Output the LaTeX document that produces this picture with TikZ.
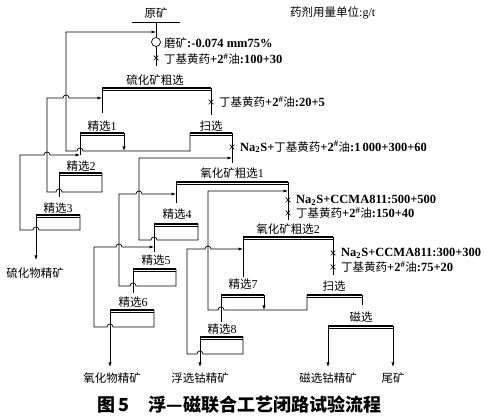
\documentclass[tikz,border=0pt]{standalone}
\usepackage{fontspec}
\setmainfont{Liberation Serif}
\newfontfamily\cjfont{Noto Sans CJK SC}
\usetikzlibrary{arrows.meta}
\newcommand\C[1]{{\cjfont\mdseries\fontsize{11.5}{13}\selectfont #1}}
\newcommand\sh{\textsuperscript{\#}}
\newcommand\xm[2]{\draw[ln] (#1-2.3,#2-2.3)--(#1+2.3,#2+2.3) (#1-2.3,#2+2.3)--(#1+2.3,#2-2.3);}
\newcommand\dbar[3]{\draw[line width=1.3pt] (#1,#3)--(#2,#3); \draw[ln] (#1,#3+2.6)--(#2,#3+2.6);}
\tikzset{
  ln/.style={line width=0.7pt},
  arw/.style={line width=0.7pt,-{Latex[length=4.5pt,width=3.2pt]}},
  lbl/.style={inner sep=0pt,font=\fontsize{12}{13}\selectfont},
  note/.style={inner sep=0pt,anchor=west,font=\fontsize{12.5}{13}\selectfont\bfseries},
}
\begin{document}
\begin{tikzpicture}[x=1pt,y=-1pt]
\useasboundingbox[fill=white] (0,0) rectangle (493,419);
% ---------- top ----------
\node[lbl] (ore) at (156,13) {\C{原矿}};
\node[lbl,anchor=west] (unit) at (290,13) {\C{药剂用量单位}:g/t};
\draw[ln] (132,22)--(180,22);
\draw[ln] (156,22)--(156,37.5);
\draw[ln] (156,42) circle[radius=4.5pt];
\draw[ln] (156,46.5)--(156,66);
\xm{156}{58}
\node[note] (grind) at (164,43) {\C{磨矿}:-0.074 mm75\%};
\node[note] (r0) at (164,59) {\C{丁基黄药}+2\sh\C{油}:100+30};
% ---------- sulfide rougher ----------
\node[lbl] (sr) at (155,80) {\C{硫化矿粗选}};
\dbar{102}{211}{88}
\draw[ln] (102,88)--(102,113);
\draw[ln] (211,88)--(211,115);
\xm{211}{102}
\node[note] (r1) at (219,102) {\C{丁基黄药}+2\sh\C{油}:20+5};
% cleaner 1
\node[lbl] (c1) at (102,126) {\C{精选}1};
\dbar{80}{124}{133}
\draw[ln] (80,133)--(80,155);
\draw[arw] (124,133)--(124,151);
% scavenger
\node[lbl] (sc1) at (211,126) {\C{扫选}};
\dbar{190}{232}{133}
\draw[ln] (232,133)--(232,163);
\xm{232}{147}
\node[note] (r2) at (240,147) {Na\textsubscript{2}S+\C{丁基黄药}+2\sh\C{油}:1\,000+300+60};
% scavenger concentrate back to feed
\draw[arw] (190,133)--(190,151)--(83,151) arc[start angle=0,end angle=180,radius=3pt]--(66,151)--(66,32)--(156,32);
% cleaner 2
\node[lbl] (c2) at (81,166) {\C{精选}2};
\dbar{59}{102}{173}
\draw[ln] (59,173)--(59,197);
\draw[arw] (102,173)--(102,192)--(62,192) arc[start angle=0,end angle=180,radius=3pt]--(47,192)--(47,98)--(63,98) arc[start angle=180,end angle=0,radius=3pt]--(102,98);
% cleaner 3
\node[lbl] (c3) at (58,208) {\C{精选}3};
\dbar{36}{80}{215}
\draw[arw] (36,215)--(36,260);
\draw[arw] (80,215)--(80,230)--(39,230) arc[start angle=0,end angle=180,radius=3pt]--(20,230)--(20,155)--(44,155) arc[start angle=180,end angle=0,radius=3pt]--(80,155);
\node[lbl] (p1) at (35,273) {\C{硫化物精矿}};
% ---------- oxide rougher 1 ----------
\node[lbl] (or1) at (232,173) {\C{氧化矿粗选}1};
\dbar{176}{288}{182}
\draw[ln] (176,182)--(176,203);
\draw[ln] (288,182)--(288,220);
\xm{288}{200}
\xm{288}{213}
\node[note] (r3) at (296,200) {Na\textsubscript{2}S+CCMA811:500+500};
\node[note] (r4) at (296,213) {\C{丁基黄药}+2\sh\C{油}:150+40};
% cleaner 4
\node[lbl] (c4) at (177,214) {\C{精选}4};
\dbar{154}{198}{224}
\draw[ln] (154,224)--(154,252);
\draw[arw] (198,224)--(198,240)--(157,240) arc[start angle=0,end angle=180,radius=3pt]--(139,240)--(139,158)--(232,158);
% cleaner 5
\node[lbl] (c5) at (156,260) {\C{精选}5};
\dbar{133}{176}{269}
\draw[ln] (133,269)--(133,293);
\draw[arw] (176,269)--(176,286)--(136,286) arc[start angle=0,end angle=180,radius=3pt]--(119,286)--(119,194)--(136,194) arc[start angle=180,end angle=0,radius=3pt]--(176,194);
% cleaner 6
\node[lbl] (c6) at (133,302) {\C{精选}6};
\dbar{110}{154}{310}
\draw[arw] (110,310)--(110,367);
\draw[arw] (154,310)--(154,327)--(113,327) arc[start angle=0,end angle=180,radius=3pt]--(94,327)--(94,247)--(116,247) arc[start angle=180,end angle=0,radius=3pt]--(154,247);
\node[lbl] (p2) at (112,378) {\C{氧化物精矿}};
% ---------- oxide rougher 2 ----------
\node[lbl] (or2) at (288,229) {\C{氧化矿粗选}2};
\dbar{243}{333}{237}
\draw[ln] (243,237)--(243,277);
\draw[ln] (333,237)--(333,275);
\xm{333}{253}
\xm{333}{267}
\node[note] (r5) at (341,253) {Na\textsubscript{2}S+CCMA811:300+300};
\node[note] (r6) at (341,267) {\C{丁基黄药}+2\sh\C{油}:75+20};
% cleaner 7
\node[lbl] (c7) at (243,284) {\C{精选}7};
\dbar{221}{264}{295}
\draw[ln] (221,295)--(221,322);
\draw[arw] (264,295)--(264,310);
% oxide scavenger
\node[lbl] (sc2) at (334,286) {\C{扫选}};
\dbar{307}{362}{295}
\draw[ln] (362,295)--(362,305);
\draw[arw] (307,295)--(307,310)--(224,310) arc[start angle=0,end angle=180,radius=3pt]--(208,310)--(208,191)--(288,191);
% cleaner 8
\node[lbl] (c8) at (222,329) {\C{精选}8};
\dbar{200}{243}{337}
\draw[arw] (200,337)--(200,367);
\draw[arw] (243,337)--(243,354)--(203,354) arc[start angle=0,end angle=180,radius=3pt]--(187,354)--(187,249)--(205,249) arc[start angle=180,end angle=0,radius=3pt]--(243,249);
\node[lbl] (p3) at (200,378) {\C{浮选钴精矿}};
% magnetic separation
\node[lbl] (mag) at (361,317) {\C{磁选}};
\dbar{328}{393}{326}
\draw[arw] (328,326)--(328,367);
\draw[arw] (393,326)--(393,367);
\node[lbl] (p4) at (328,378) {\C{磁选钴精矿}};
\node[lbl] (p5) at (393,378) {\C{尾矿}};
% caption
\node[inner sep=0pt,anchor=west,font=\fontsize{18}{19}\selectfont] (cap) at (97,405) {{\cjfont\bfseries 图\,5\hspace{1.1em}浮—磁联合工艺闭路试验流程}};
\end{tikzpicture}
\end{document}
